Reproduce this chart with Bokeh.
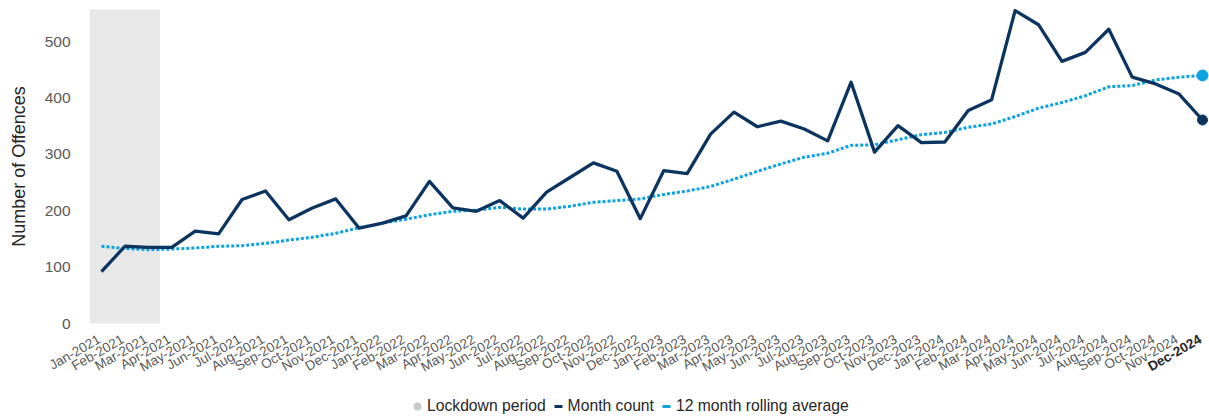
import math
from bokeh.plotting import figure
from bokeh.models import (ColumnDataSource, Range1d, Legend, LegendItem)
from bokeh.core.properties import value
from bokeh.embed import file_html
from bokeh.resources import INLINE

# ---------------- data ----------------
years = [2021, 2022, 2023, 2024]
month_names = ["Jan", "Feb", "Mar", "Apr", "May", "Jun",
               "Jul", "Aug", "Sep", "Oct", "Nov", "Dec"]
month_labels = [f"{m}-{y}" for y in years for m in month_names]

month_count = [92, 137, 135, 135, 164, 159, 220, 235, 184, 205, 221, 169,
               178, 191, 252, 205, 199, 218, 187, 233, 259, 285, 270, 186,
               271, 266, 336, 375, 349, 359, 345, 324, 428, 304, 351, 321,
               322, 378, 397, 555, 530, 465, 481, 522, 437, 425, 407, 361]

rolling_avg = [137, 133, 131, 132, 134, 137, 138, 142, 148, 153, 160, 170,
               178, 185, 193, 199, 201, 206, 203, 203, 208, 215, 218, 221,
               229, 235, 243, 256, 270, 283, 295, 302, 316, 317, 326, 335,
               339, 348, 354, 367, 382, 392, 404, 420, 422, 432, 437, 440]

lockdown_months = ["Jan-2021", "Mar-2021"]
y_ticks = [0, 100, 200, 300, 400, 500]
y_max = 557
y_title = "Number of Offences"
legend_labels = ["Lockdown period", "Month count", "12 month rolling average"]

# ---------------- layout / styling ----------------
W, H = 1209, 416
X0_PX, X1_PX = 101, 1202     # canvas x of first / last month
Y0_PX, YTOP_PX = 323, 9      # canvas y of value 0 / of y_max
NAVY = "#0b3560"
LIGHT = "#0aa2e0"
BAND = "#e8e8e8"
TICK_COLOR = "#595959"
DARK = "#262626"
FONT = "Liberation Sans"
ANG = math.radians(30)

n = len(month_labels)
sxu = (X1_PX - X0_PX) / (n - 1)
x_start = -X0_PX / sxu
x_end = (n - 1) + (W - X1_PX) / sxu
syu = (Y0_PX - YTOP_PX) / y_max
y_end = y_max + YTOP_PX / syu
y_start = -(H - Y0_PX) / syu

idx = list(range(n))
last = n - 1
src = ColumnDataSource(dict(x=idx, count=month_count, avg=rolling_avg))

p = figure(width=W, height=H, output_backend="svg", toolbar_location=None,
           x_range=Range1d(x_start, x_end), y_range=Range1d(y_start, y_end),
           x_axis_location=None, y_axis_location=None,
           min_border=0, min_border_left=0, min_border_right=0,
           min_border_top=0, min_border_bottom=0)
p.outline_line_color = None
p.xgrid.visible = False
p.ygrid.visible = False

# lockdown band
l0 = month_labels.index(lockdown_months[0])
l1 = month_labels.index(lockdown_months[1])
p.quad(left=[l0 - 0.5], right=[l1 + 0.5], bottom=[0], top=[y_max],
       fill_color=BAND, line_color=None)

# rolling average (dotted) and month count
p.line("x", "avg", source=src, line_color=LIGHT, line_width=3, line_dash="3 2")
p.line("x", "count", source=src, line_color=NAVY, line_width=3.3,
       line_join="round")

# end markers
p.scatter([idx[last]], [rolling_avg[last]], size=11, color=LIGHT)
p.scatter([idx[last]], [month_count[last]], size=10, color=NAVY)

# y tick labels and title
p.text(x=[x_start] * len(y_ticks), y=y_ticks, text=[str(t) for t in y_ticks],
       x_offset=70, text_align="right", text_baseline="middle",
       text_font=value(FONT), text_font_size="15.5px", text_color=TICK_COLOR)
p.text(x=[x_start], y=[y_max / 2], text=[y_title], x_offset=18.5,
       angle=math.pi / 2, text_align="center", text_baseline="middle",
       text_font=value(FONT), text_font_size="18px", text_color=DARK)

# x tick labels (rotated), latest month in bold
p.text(x=idx[:-1], y=[0] * (n - 1), text=month_labels[:-1],
       x_offset=-6, y_offset=8, angle=ANG,
       text_align="right", text_baseline="top",
       text_font=value(FONT), text_font_size="13.5px", text_color=TICK_COLOR)
p.text(x=[idx[last]], y=[0], text=[month_labels[last]],
       x_offset=-6, y_offset=8, angle=ANG,
       text_align="right", text_baseline="top",
       text_font=value(FONT), text_font_size="13.5px", text_font_style="bold",
       text_color=DARK)

# legend proxies (not drawn in the plot: NaN coordinates)
nan = float("nan")
r_lock = p.scatter([nan], [nan], marker="circle", fill_color="#c8c8c8",
                   line_color=None)
r_cnt = p.scatter([nan], [nan], marker="dash", line_color=NAVY, line_width=3)
r_avg = p.scatter([nan], [nan], marker="dash", line_color=LIGHT, line_width=3)

legend = Legend(items=[LegendItem(label=legend_labels[0], renderers=[r_lock]),
                       LegendItem(label=legend_labels[1], renderers=[r_cnt]),
                       LegendItem(label=legend_labels[2], renderers=[r_avg])],
                orientation="horizontal", location=(407, 0), padding=0, margin=0,
                background_fill_alpha=0, border_line_color=None,
                label_text_font=FONT, label_text_font_size="15.7px",
                label_text_color=DARK, glyph_height=20, glyph_width=20,
                label_standoff=0, spacing=2)
p.add_layout(legend)

open("out.html", "w").write(file_html(p, INLINE))
